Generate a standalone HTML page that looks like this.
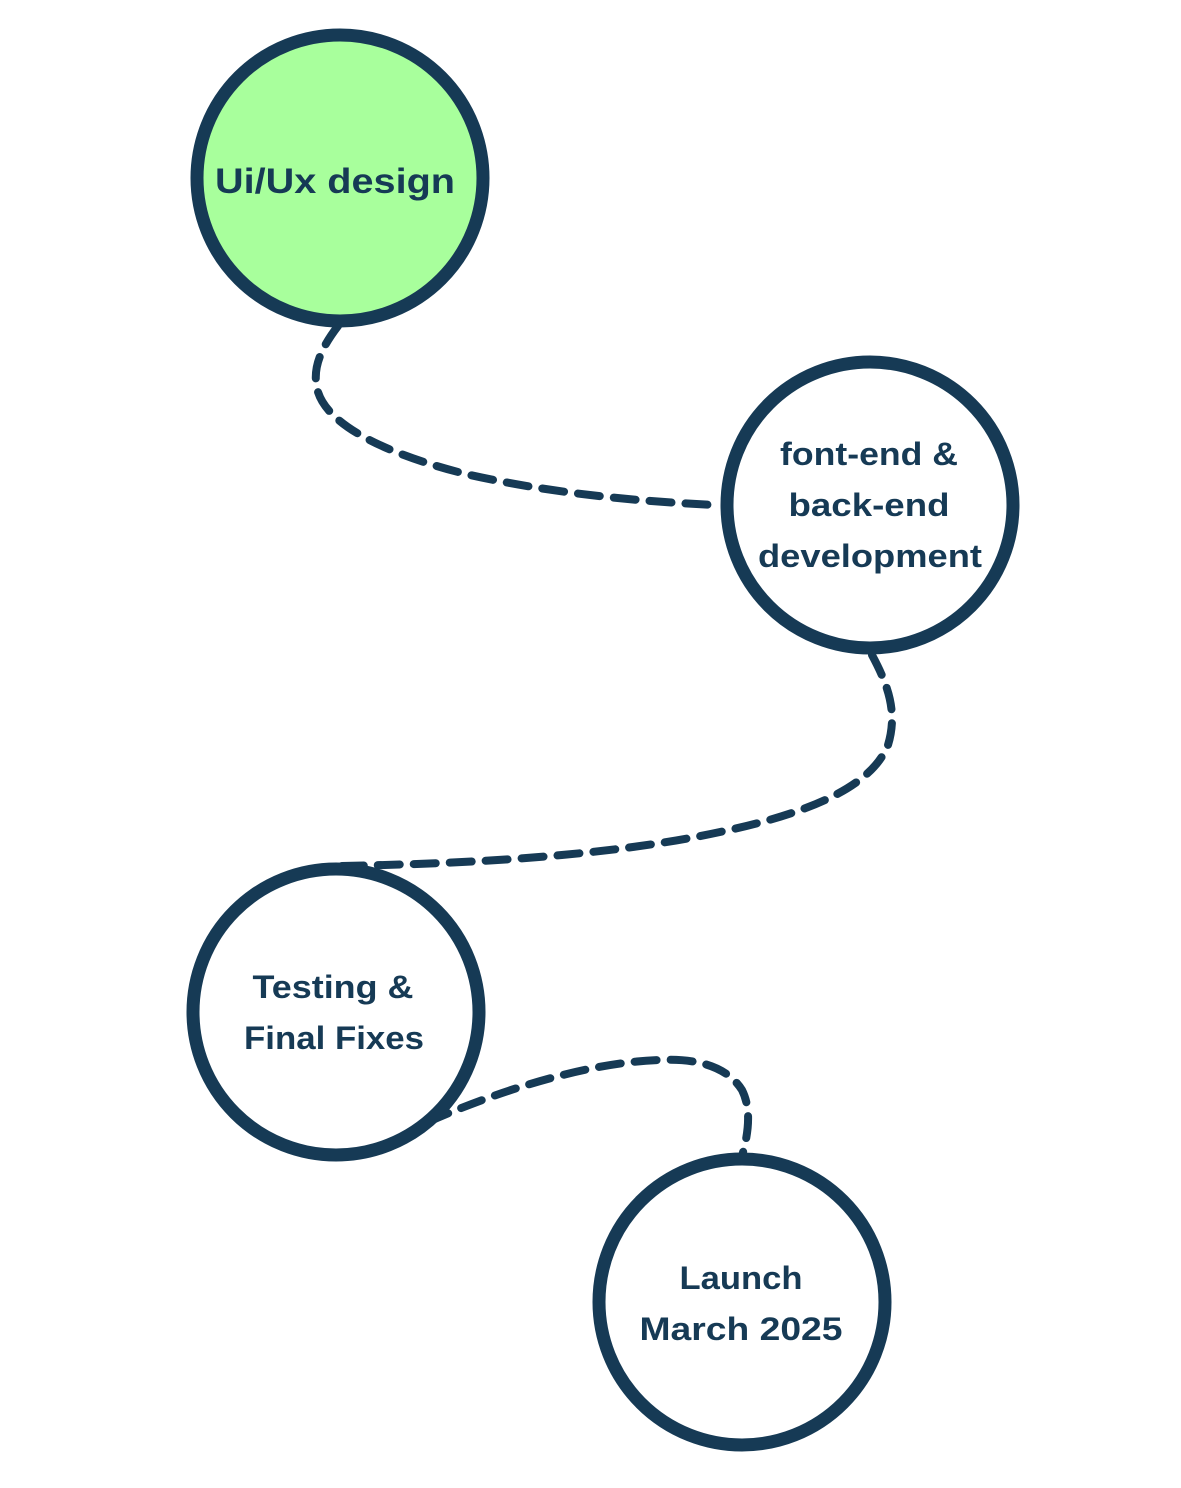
<!DOCTYPE html>
<html><head><style>
html,body{margin:0;padding:0;background:#fff;}
svg{display:block}
text{font-family:"Liberation Sans",sans-serif;font-weight:bold;fill:#163a55;text-anchor:middle}
</style></head><body>
<svg width="1181" height="1488" viewBox="0 0 1181 1488">
<g fill="none" stroke="#163a55" stroke-width="8" stroke-dasharray="22 14" stroke-linecap="round">
<path d="M338 326 C318 352 312 372 318 392 C330 430 400 458 470 475 C560 495 650 502 715 505"/>
<path d="M872 655 C888 685 898 712 888 745 C870 790 800 815 720 832 C600 858 450 864 340 866"/>
<path d="M428 1122 C500 1090 590 1062 660 1060 C700 1058 728 1068 742 1090 C752 1110 748 1135 742 1156"/>
</g>
<g stroke="#163a55" stroke-width="13">
<circle cx="340" cy="178" r="143" fill="#a8ff9c"/>
<circle cx="870" cy="505" r="143" fill="#fff"/>
<circle cx="336" cy="1012" r="143" fill="#fff"/>
<circle cx="742" cy="1302" r="143" fill="#fff"/>
</g>
<g lengthAdjust="spacingAndGlyphs">
<text x="335" y="193" font-size="35" textLength="240" lengthAdjust="spacingAndGlyphs">Ui/Ux design</text>
<text x="869" y="465" font-size="32" textLength="178" lengthAdjust="spacingAndGlyphs">font-end &amp;</text>
<text x="869" y="516" font-size="32" textLength="161" lengthAdjust="spacingAndGlyphs">back-end</text>
<text x="870" y="567" font-size="32" textLength="224" lengthAdjust="spacingAndGlyphs">development</text>
<text x="333" y="998" font-size="32" textLength="161" lengthAdjust="spacingAndGlyphs">Testing &amp;</text>
<text x="334" y="1049" font-size="32" textLength="180" lengthAdjust="spacingAndGlyphs">Final Fixes</text>
<text x="741" y="1289" font-size="32" textLength="123" lengthAdjust="spacingAndGlyphs">Launch</text>
<text x="741" y="1340" font-size="32" textLength="203" lengthAdjust="spacingAndGlyphs">March 2025</text>
</g>
</svg>
</body></html>
